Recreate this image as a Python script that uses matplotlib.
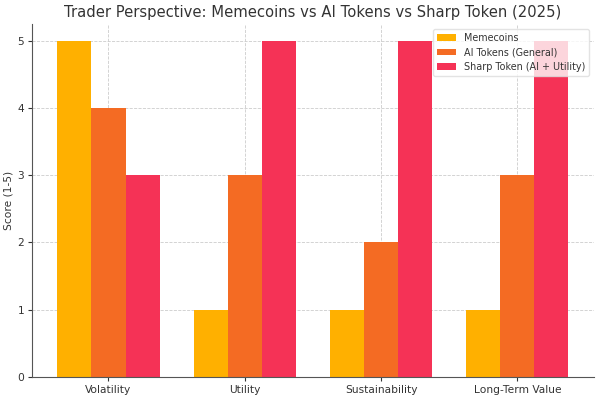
import matplotlib
matplotlib.use("Agg")
import matplotlib.pyplot as plt
import numpy as np

categories = ["Volatility", "Utility", "Sustainability", "Long-Term Value"]
memecoins = [5, 1, 1, 1]
ai_tokens = [4, 3, 2, 3]
sharp_token = [3, 5, 5, 5]
series_names = ["Memecoins", "AI Tokens (General)", "Sharp Token (AI + Utility)"]
colors = ["#FFB000", "#F46B23", "#F53256"]

txt = "#333333"
plt.rcParams["font.family"] = "DejaVu Sans"
plt.rcParams["text.color"] = txt
plt.rcParams["axes.labelcolor"] = txt
plt.rcParams["xtick.color"] = txt
plt.rcParams["ytick.color"] = txt

fig, ax = plt.subplots(figsize=(6, 3.98), dpi=100)
fig.subplots_adjust(left=0.053, right=0.99, bottom=0.053, top=0.94)

x = np.arange(len(categories))
w = 0.25
for k, vals in enumerate([memecoins, ai_tokens, sharp_token]):
    ax.bar(x + (k - 1) * w, vals, w, label=series_names[k], color=colors[k])

ax.set_xticks(x)
ax.set_xticklabels(categories, fontsize=7.7)
ax.tick_params(axis="y", labelsize=7.7)
ax.tick_params(length=3, width=0.8, pad=2.5)
ax.set_ylabel("Score (1-5)", fontsize=7.7, labelpad=3)
ax.set_title("Trader Perspective: Memecoins vs AI Tokens vs Sharp Token (2025)",
             fontsize=10.6, pad=5)
ax.grid(True, linestyle="--", color="#cccccc", linewidth=0.6)
ax.set_axisbelow(True)
for s in ["top", "right"]:
    ax.spines[s].set_visible(False)
for s in ["left", "bottom"]:
    ax.spines[s].set_color("#555555")
ax.legend(loc="upper right", fontsize=6.9, framealpha=0.8, edgecolor="#dddddd")

fig.savefig("out.png")
